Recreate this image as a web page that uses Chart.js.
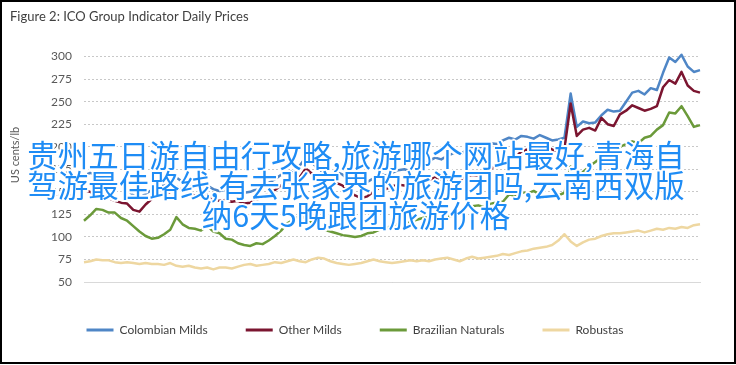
<!DOCTYPE html>
<html>
<head>
<meta charset="utf-8">
<script src="https://cdn.jsdelivr.net/npm/chart.js@4/dist/chart.umd.min.js"></script>
<style>
  body { margin: 0; background: #fff; }
  #wrap { position: relative; width: 736px; height: 365px; background: #fff; }
  #frame { position: absolute; left: 0; top: 0; width: 736px; height: 364px; box-sizing: border-box; border: 2px solid #000; pointer-events: none; }
  #overlay {
    position: absolute; left: 0; top: 139px; width: 712px;
    text-align: center; font-family: "Noto Sans CJK SC", sans-serif;
    font-size: 30.5px; line-height: 30px; color: #1e8cf5; white-space: nowrap;
    text-shadow: 2px 0 #fff, -2px 0 #fff, 0 2px #fff, 0 -2px #fff,
      1.5px 1.5px #fff, -1.5px 1.5px #fff, 1.5px -1.5px #fff, -1.5px -1.5px #fff;
  }
</style>
</head>
<body>
<div id="wrap">
  <canvas id="chart" width="736" height="365"></canvas>
  <div id="frame"></div>
  <div id="overlay">贵州五日游自由行攻略,旅游哪个网站最好,青海自<br>驾游最佳路线,有去张家界的旅游团吗,云南西双版<br>纳6天5晚跟团旅游价格</div>
</div>
<script>
// tick labels on the time axis, one every 3 months (x is in months from Dec-19)
const tickLabels = ['Dec-19', 'Mar-20', 'Jun-20', 'Sep-20', 'Dec-20', 'Mar-21', 'Jun-21', 'Sep-21', 'Dec-21'];

// weekly-ish samples, a quarter month apart, Dec-19 .. end Dec-21
const colombianMilds = [
  168, 171, 169, 165, 163, 160, 158, 153, 146, 143,
  148, 152, 155, 157, 160, 166, 161, 158, 156, 155,
  157, 153, 151, 152, 150, 151, 149, 150, 153, 157,
  160, 164, 169, 174, 171, 179, 188, 183, 175, 170,
  164, 172, 169, 163, 160, 158, 161, 165, 170, 168,
  171, 174, 175, 173, 177, 181, 184, 188, 186, 190,
  193, 191, 196, 200, 198, 202, 204, 203, 207, 210,
  208, 212, 211, 209, 213, 210, 207, 208, 210, 259,
  222, 228, 226, 227, 235, 241, 239, 240, 250, 260,
  262, 258, 265, 263, 282, 299, 294, 302, 289, 283,
  285
];
const otherMilds = [
  152, 150, 147, 144, 143, 140, 138, 137, 130, 128,
  136, 142, 145, 147, 150, 156, 151, 148, 146, 145,
  147, 142, 140, 141, 139, 140, 137, 138, 141, 145,
  148, 152, 157, 162, 158, 166, 176, 170, 162, 158,
  151, 160, 157, 150, 146, 143, 145, 150, 155, 153,
  156, 158, 157, 155, 158, 161, 163, 166, 164, 162,
  165, 163, 167, 169, 168, 171, 175, 180, 184, 190,
  188, 195, 197, 193, 198, 200, 197, 195, 198, 248,
  212, 219, 221, 218, 232, 225, 223, 236, 240, 246,
  243, 240, 242, 245, 266, 274, 270, 283, 268, 262,
  260
];
const brazilianNaturals = [
  118, 124, 131, 130, 127, 127, 121, 118, 112, 106,
  101, 98, 99, 103, 108, 122, 114, 110, 109, 107,
  112, 106, 104, 98, 97, 93, 91, 90, 93, 92,
  96, 101, 107, 115, 119, 123, 121, 116, 112, 108,
  106, 104, 102, 101, 100, 101, 104, 105, 108, 110,
  112, 114, 115, 117, 119, 121, 123, 121, 120, 122,
  124, 126, 131, 134, 135, 133, 137, 138, 139, 147,
  146, 150, 148, 151, 147, 143, 144, 146, 149, 178,
  166, 172, 178, 183, 188, 185, 192, 200, 203, 206,
  204, 210, 212, 219, 224, 238, 237, 245, 234, 222,
  224
];
const robustas = [
  72, 73, 75, 74, 74, 72, 71, 72, 71, 70,
  71, 70, 70, 69, 71, 68, 67, 68, 66, 65,
  66, 64, 66, 66, 65, 67, 69, 70, 68, 69,
  70, 72, 71, 73, 75, 73, 72, 75, 77, 76,
  73, 71, 70, 69, 70, 71, 73, 75, 73, 72,
  71, 72, 73, 74, 73, 74, 73, 75, 76, 77,
  75, 73, 76, 78, 76, 77, 78, 79, 81, 80,
  82, 84, 85, 87, 88, 89, 91, 96, 103, 95,
  90, 94, 97, 98, 101, 103, 104, 104, 105, 106,
  107, 105, 107, 109, 108, 110, 109, 111, 110, 113,
  114
];

const months = colombianMilds.map((_, i) => i / 4);
const pts = arr => arr.map((v, i) => ({ x: months[i], y: v }));

const FONT = 'Lato, "Open Sans", sans-serif';

function line(label, values, color, order) {
  return {
    label, data: pts(values), order,
    borderColor: color, backgroundColor: color,
    borderWidth: 2.5, pointRadius: 0, tension: 0,
    borderJoinStyle: 'round', clip: false
  };
}

// y axis title sits a bit above the plot centre in the original, so draw it by hand
const yTitle = {
  id: 'yTitle',
  afterDraw(chart) {
    const ctx = chart.ctx;
    ctx.save();
    ctx.translate(15, 155);
    ctx.rotate(-Math.PI / 2);
    ctx.font = '11px ' + FONT;
    ctx.fillStyle = '#595959';
    ctx.textAlign = 'center';
    ctx.textBaseline = 'middle';
    ctx.fillText('US cents/lb', 0, 0);
    ctx.restore();
  }
};

new Chart(document.getElementById('chart'), {
  type: 'line',
  data: {
    datasets: [
      line('Colombian Milds', colombianMilds, '#4f86c6', 4),
      line('Other Milds', otherMilds, '#7b1530', 3),
      line('Brazilian Naturals', brazilianNaturals, '#6b9a3a', 2),
      line('Robustas', robustas, '#eed7a1', 1)
    ]
  },
  options: {
    responsive: false,
    animation: false,
    layout: { padding: { left: 10, right: 36, top: 0, bottom: 19 } },
    scales: {
      x: {
        type: 'linear', min: 0, max: 25,
        grid: { display: false, drawTicks: false },
        border: { display: true, color: '#d9d9d9', width: 1 },
        ticks: {
          stepSize: 3, includeBounds: false, autoSkip: false, maxRotation: 0,
          padding: 10, color: '#595959', font: { family: FONT, size: 12 },
          callback: v => tickLabels[v / 3]
        },
        afterFit: s => { s.height = 4; }
      },
      y: {
        min: 50, max: 300,
        grid: { color: '#c8c8c8', lineWidth: 1, drawTicks: false },
        border: { display: false, dash: [2, 2] },
        ticks: { stepSize: 25, padding: 12, color: '#595959', font: { family: FONT, size: 12 } },
        afterFit: s => { s.width = 74; }
      }
    },
    plugins: {
      title: {
        display: true, text: 'Figure 2: ICO Group Indicator Daily Prices', align: 'start',
        color: '#404040', font: { family: FONT, size: 13, weight: 'normal' },
        padding: { top: 9, bottom: 32 }
      },
      legend: {
        position: 'bottom', reverse: true,
        labels: {
          boxWidth: 27, boxHeight: 3, padding: 38,
          color: '#404040', font: { family: FONT, size: 12 },
          generateLabels: chart => Chart.defaults.plugins.legend.labels.generateLabels(chart)
            .map(item => Object.assign(item, { lineWidth: 0 }))
        }
      },
      tooltip: { enabled: false }
    }
  },
  plugins: [yTitle]
});
</script>
</body>
</html>
